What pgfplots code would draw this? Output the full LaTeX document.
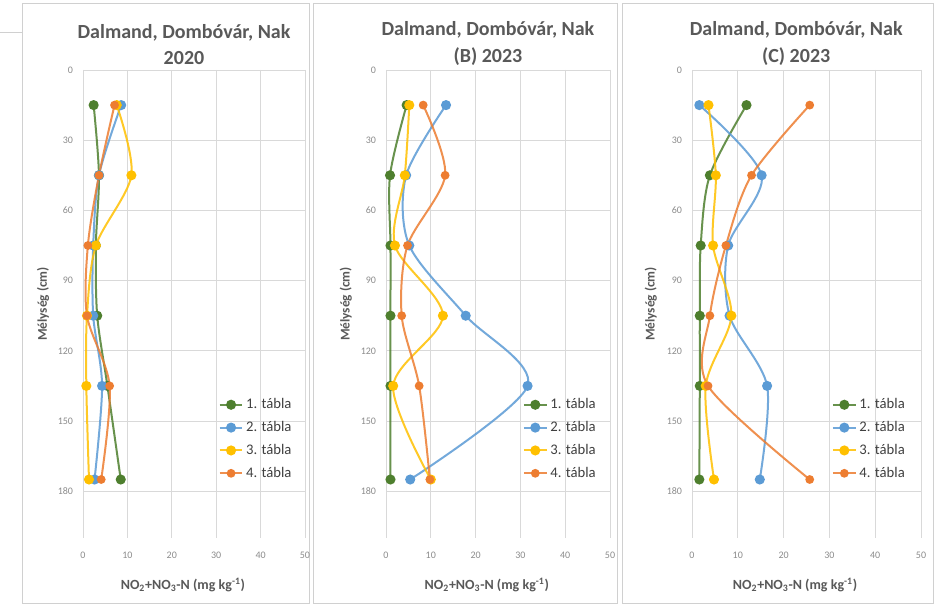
\documentclass[border=0pt]{standalone}
\usepackage{fontspec}
\setmainfont{Carlito}
\usepackage{pgfplots}
\pgfplotsset{compat=1.18}
\definecolor{c1}{HTML}{4E7F2E}
\definecolor{c2}{HTML}{5B9BD5}
\definecolor{c3}{HTML}{FFC000}
\definecolor{c4}{HTML}{ED7D31}
\definecolor{gridc}{HTML}{D9D9D9}
\definecolor{tickc}{HTML}{8C8C8C}
\definecolor{titlec}{HTML}{595959}
\definecolor{framec}{HTML}{D0D0D0}
\pgfplotsset{
  panel/.style={
    scale only axis, height=351pt,
    xmin=0, xmax=50, ymin=0, ymax=200, y dir=reverse,
    xtick={0,10,20,30,40,50}, ytick={0,30,60,90,120,150,180},
    xmajorgrids, ymajorgrids,
    major grid style={draw=gridc, line width=0.6pt},
    axis line style={draw=none}, major tick length=0pt,
    tick label style={font=\fontsize{7.5}{8}\selectfont, text=tickc},
    /pgf/number format/assume math mode=true,
    yticklabel style={xshift=-4pt},
    xticklabel style={yshift=-7pt},
    ylabel={Mélység (cm)},
    ylabel style={font=\bfseries\fontsize{10}{11}\selectfont, text=titlec, at={(axis description cs:-0.18,0.5)}, anchor=center},
    xlabel={NO\textsubscript{2}+NO\textsubscript{3}-N (mg kg\textsuperscript{-1})},
    xlabel style={font=\bfseries\fontsize{10.5}{11}\selectfont, text=titlec, at={(axis description cs:0.45,0)}, anchor=center, yshift=-35pt},
    title style={font=\bfseries\fontsize{15}{20}\selectfont, text=titlec, align=center, at={(axis description cs:0.455,1)}, anchor=south, yshift=-2.5pt, inner sep=0pt},
    legend style={at={(axis description cs:0.61,0.304)}, anchor=north west, draw=none, fill=none, font=\fontsize{11}{12}\selectfont, text=black!75, row sep=4pt, inner sep=0pt},
    legend cell align=left,
  },
  s1/.style={color=c1, line width=1.5pt, draw opacity=0.85, mark=*, mark size=3pt, mark options={fill=c1, draw=c1, draw opacity=1}, smooth, tension=0.5},
  s2/.style={color=c2, line width=1.5pt, draw opacity=0.85, mark=*, mark size=3pt, mark options={fill=c2, draw=c2, draw opacity=1}, smooth, tension=0.5},
  s3/.style={color=c3, line width=1.5pt, draw opacity=0.85, mark=*, mark size=3pt, mark options={fill=c3, draw=c3, draw opacity=1}, smooth, tension=0.5},
  s4/.style={color=c4, line width=1.5pt, draw opacity=0.85, mark=*, mark size=2.5pt, mark options={fill=c4, draw=c4, draw opacity=1}, smooth, tension=0.5},
}
\begin{document}
\begin{tikzpicture}
\begin{scope}[x=0.75pt, y=0.75pt]
\useasboundingbox (0,0) rectangle (935,606);
\fill[white] (0,0) rectangle (935,606);
\draw[framec, line width=0.6pt] (22,3) rectangle (309,603);
\draw[framec, line width=0.6pt] (313,3) rectangle (617,603);
\draw[framec, line width=0.6pt] (622,3) rectangle (933,603);
\draw[framec, line width=0.6pt] (0,574) -- (22,574);
\end{scope}

% Panel 1
\begin{axis}[panel, width=166.5pt, at={(62.25pt,51pt)}, anchor=south west,
  title={Dalmand, Dombóvár, Nak\\2020}]
\addplot[s1] coordinates {(2.4,15) (3.6,45) (2.9,75) (3.2,105) (5.5,135) (8.5,175)};
\addplot[s2] coordinates {(8.6,15) (3.6,45) (2.3,75) (2.3,105) (4.3,135) (2.6,175)};
\addplot[s3] coordinates {(7.6,15) (10.9,45) (2.9,75) (0.9,105) (0.75,135) (1.35,175)};
\addplot[s4] coordinates {(7.1,15) (3.6,45) (1.1,75) (0.9,105) (6.0,135) (4.1,175)};
\legend{1. tábla, 2. tábla, 3. tábla, 4. tábla}
\end{axis}

% Panel 2
\begin{axis}[panel, width=168pt, at={(289.5pt,51pt)}, anchor=south west,
  title={Dalmand, Dombóvár, Nak\\(B) 2023}]
\addplot[s1] coordinates {(4.6,15) (0.9,45) (1.0,75) (1.0,105) (1.0,135) (1.0,175)};
\addplot[s2] coordinates {(13.4,15) (4.5,45) (5.2,75) (17.8,105) (31.6,135) (5.4,175)};
\addplot[s3] coordinates {(5.2,15) (4.2,45) (2.0,75) (12.7,105) (1.6,135) (10.0,175)};
\addplot[s4] coordinates {(8.3,15) (13.2,45) (4.8,75) (3.5,105) (7.4,135) (9.8,175)};
\legend{1. tábla, 2. tábla, 3. tábla, 4. tábla}
\end{axis}

% Panel 3
\begin{axis}[panel, width=171.75pt, at={(519pt,51pt)}, anchor=south west,
  title={Dalmand, Dombóvár, Nak\\(C) 2023}]
\addplot[s1] coordinates {(11.9,15) (3.9,45) (1.9,75) (1.7,105) (1.7,135) (1.6,175)};
\addplot[s2] coordinates {(1.6,15) (15.2,45) (7.9,75) (8.2,105) (16.4,135) (14.8,175)};
\addplot[s3] coordinates {(3.6,15) (5.2,45) (4.6,75) (8.6,105) (3.0,135) (4.8,175)};
\addplot[s4] coordinates {(25.7,15) (13.0,45) (7.4,75) (3.9,105) (3.5,135) (25.7,175)};
\legend{1. tábla, 2. tábla, 3. tábla, 4. tábla}
\end{axis}
\end{tikzpicture}
\end{document}
